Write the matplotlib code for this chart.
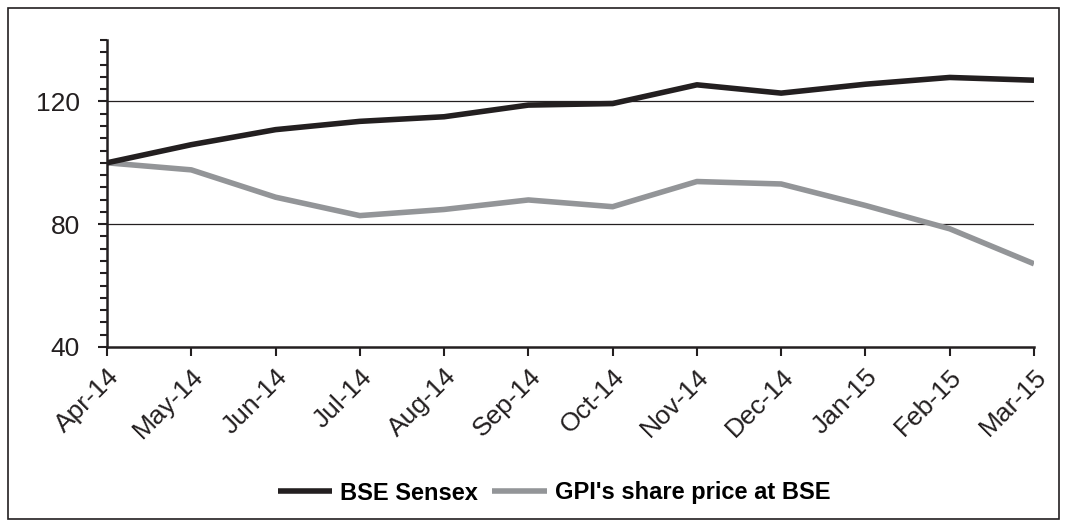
import matplotlib.pyplot as plt
from matplotlib.patches import Rectangle
from matplotlib.ticker import MultipleLocator

months = ['Apr-14', 'May-14', 'Jun-14', 'Jul-14', 'Aug-14', 'Sep-14',
          'Oct-14', 'Nov-14', 'Dec-14', 'Jan-15', 'Feb-15', 'Mar-15']
sensex = [100, 105.9, 110.8, 113.5, 115.0, 118.8, 119.3, 125.4, 122.7, 125.6, 127.8, 126.9]
gpi = [100, 97.7, 88.8, 82.8, 84.8, 87.9, 85.7, 93.9, 93.1, 86.1, 78.5, 67.1]

plt.rcParams['font.family'] = ['Liberation Sans', 'DejaVu Sans']

fig = plt.figure(figsize=(10.67, 5.27), dpi=100, facecolor='white')
ax = fig.add_axes([107 / 1067, 1 - 347 / 527, (1034 - 107) / 1067, (347 - 40) / 527])

x = list(range(len(months)))
ax.plot(x, sensex, color='#231f20', lw=4, solid_capstyle='butt', zorder=3, label='BSE Sensex')
ax.plot(x, gpi, color='#939598', lw=4, solid_capstyle='butt', zorder=2,
        label="GPI's share price at BSE")

ax.set_xlim(0, len(months) - 1)
ax.set_ylim(40, 140)
ax.yaxis.set_minor_locator(MultipleLocator(4))
ax.set_yticks([40, 80, 120])
ax.set_xticks(x)
ax.set_xticklabels(months, rotation=45, ha='right', rotation_mode='anchor')
for v in [80, 120]:
    ax.axhline(v, color='#231f20', lw=0.9, zorder=1)

for s in ['top', 'right']:
    ax.spines[s].set_visible(False)
for s in ['left', 'bottom']:
    ax.spines[s].set_linewidth(1.8)
    ax.spines[s].set_color('#231f20')
ax.tick_params(axis='y', which='major', length=6.5, width=1.5, labelsize=19, colors='#231f20', pad=13)
ax.tick_params(axis='y', which='minor', length=5, width=1.5, colors='#231f20')
ax.tick_params(axis='x', which='major', length=6.5, width=1.5, labelsize=19, colors='#231f20', pad=6)

leg = fig.legend(loc='center', bbox_to_anchor=(554 / 1067, 1 - 493 / 527), ncol=2, frameon=False,
                 prop={'weight': 'bold', 'size': 17},
                 handlelength=2.3, columnspacing=0.6, handletextpad=0.35)
for ln in leg.get_lines():
    ln.set_linewidth(4)

fig.patches.append(Rectangle((8 / 1067, 8 / 527), 1051 / 1067, 511 / 527, transform=fig.transFigure,
                             fill=False, edgecolor='#231f20', lw=1.2))

fig.savefig('out.png', dpi=100, facecolor='white')
